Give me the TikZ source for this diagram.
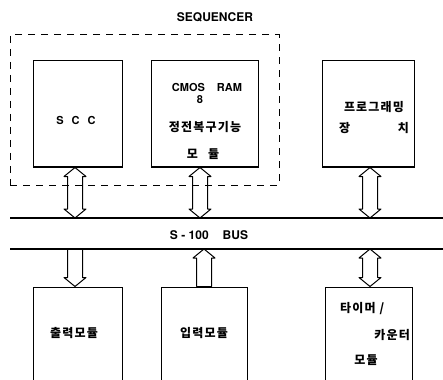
\documentclass[tikz,border=0pt]{standalone}
\usepackage{fontspec}
\setmainfont{TeX Gyre Heros}
\newfontfamily\kr[LetterSpace=10]{Noto Sans CJK KR}
\usetikzlibrary{calc}

\tikzset{
  modbox/.style={draw,line width=1pt,minimum height=106pt,inner sep=0pt},
  lbl/.style={font=\bfseries\fontsize{11}{13}\selectfont,inner sep=0pt},
  biglbl/.style={font=\bfseries\fontsize{12}{14}\selectfont,inner sep=0pt},
  krlbl/.style={font=\kr\bfseries\fontsize{12}{14}\selectfont,inner sep=0pt},
  busline/.style={line width=1.1pt},
  busarrow/.style={line width=1pt,line join=round},
}

% hollow bus arrows: tip/flat end at #1 (upper), at #2 (lower)
\newcommand{\twoway}[2]{%
  \draw[busarrow] (#1) -- ++(11,9) -- ++(-3.5,0) -- ($(#2)+(7.5,-9)$) -- ++(3.5,0) -- (#2)
    -- ++(-11,-9) -- ++(3.5,0) -- ($(#1)+(-7.5,9)$) -- ++(-3.5,0) -- cycle;}
\newcommand{\downway}[2]{%
  \draw[busarrow] ($(#1)+(-7.5,0)$) -- ($(#1)+(7.5,0)$) -- ($(#2)+(7.5,-9)$) -- ++(3.5,0) -- (#2)
    -- ++(-11,-9) -- ++(3.5,0) -- cycle;}
\newcommand{\upway}[2]{%
  \draw[busarrow] (#1) -- ++(11,9) -- ++(-3.5,0) -- ($(#2)+(7.5,0)$) -- ($(#2)+(-7.5,0)$)
    -- ($(#1)+(-7.5,9)$) -- ++(-3.5,0) -- cycle;}

\begin{document}
\begin{tikzpicture}[x=1pt,y=-1pt]
\useasboundingbox (0,0) rectangle (443,379);
\clip (0,0) rectangle (443,379);

% sequencer group
\node[biglbl] (seqtitle) at (215,17) {SEQUENCER};
\node[draw,line width=1pt,dash pattern=on 7pt off 6pt,minimum width=269pt,minimum height=150pt,inner sep=0pt] (seq) at (144.5,110) {};

% upper modules
\node[modbox,minimum width=89pt] (scc) at (77.5,114) {};
\node[modbox,minimum width=107pt] (cmos) at (204.5,114) {};
\node[modbox,minimum width=92pt] (prog) at (368,114) {};

\node[lbl] (scclbl) at (76,120) {S\hspace{8pt}C\hspace{8pt}C};
\node[lbl] (cmoslbl) at (207,87) {CMOS\hspace{12pt}RAM};
\node[lbl] (andlbl) at (200,100) {8};
\node[krlbl] (powerlbl) at (205,127) {정전복구기능};
\node[krlbl] (cmosmod) at (203,154) {모\hspace{10pt}듈};
\node[krlbl] (proglbl) at (374,107) {프로그래밍};
\node[krlbl,text width=70pt] (devlbl) at (374,128) {장\hfill 치};

% bus
\coordinate (bustopL) at (10,218);
\coordinate (bustopR) at (443,218);
\coordinate (busbotL) at (10,249);
\coordinate (busbotR) at (443,249);
\draw[busline] (bustopL) -- (bustopR);
\draw[busline] (busbotL) -- (busbotR);
\node[biglbl] (bus) at (209,235) {S - 100\hspace{14pt}BUS};

% lower modules
\node[modbox,minimum width=89pt,minimum height=130pt] (outmod) at (77.5,352) {};
\node[modbox,minimum width=86pt,minimum height=130pt] (inmod) at (204,352) {};
\node[modbox,minimum width=87pt,minimum height=130pt] (timer) at (368.5,352) {};

\node[krlbl] (outlbl) at (74,333) {출력모듈};
\node[krlbl] (inlbl) at (204,333) {입력모듈};
\node[krlbl,anchor=west] (timerlbl) at (340,309) {타이머 /};
\node[krlbl,anchor=east] (counterlbl) at (410,335) {카운터};
\node[krlbl] (timermod) at (366,360) {모듈};

% arrow ends
\coordinate (sccend) at ($(scc.south)+(-2.5,0)$);
\coordinate (sccbus) at (sccend |- bustopL);
\coordinate (cmosend) at ($(cmos.south)+(-4.5,0)$);
\coordinate (cmosbus) at (cmosend |- bustopL);
\coordinate (progend) at ($(prog.south)+(2,0)$);
\coordinate (progbus) at (progend |- bustopL);
\coordinate (outend) at ($(outmod.north)+(-2.5,0)$);
\coordinate (outbus) at (outend |- busbotL);
\coordinate (inbus) at (inmod.north |- busbotL);
\coordinate (timerend) at ($(timer.north)+(1.5,0)$);
\coordinate (timerbus) at (timerend |- busbotL);

\twoway{sccend}{sccbus}
\twoway{cmosend}{cmosbus}
\twoway{progend}{progbus}
\downway{outbus}{outend}
\upway{inbus}{inmod.north}
\twoway{timerbus}{timerend}
\end{tikzpicture}
\end{document}
